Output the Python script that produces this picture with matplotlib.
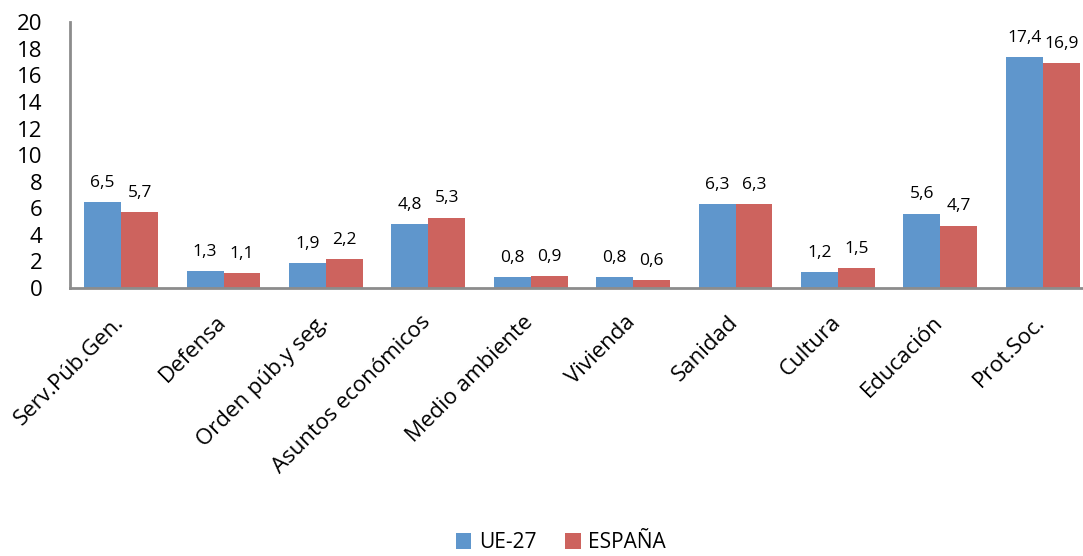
import numpy as np
import matplotlib.pyplot as plt
from matplotlib.transforms import ScaledTranslation

categorias = ['Serv.Púb.Gen.', 'Defensa', 'Orden púb.y seg.', 'Asuntos económicos',
              'Medio ambiente', 'Vivienda', 'Sanidad', 'Cultura', 'Educación', 'Prot.Soc.']
ue27 = [6.5, 1.3, 1.9, 4.8, 0.8, 0.8, 6.3, 1.2, 5.6, 17.4]
espana = [5.7, 1.1, 2.2, 5.3, 0.9, 0.6, 6.3, 1.5, 4.7, 16.9]
yticks = [0, 2, 4, 6, 8, 10, 12, 14, 16, 18, 20]

plt.rcParams['font.family'] = ['Open Sans', 'DejaVu Sans']

fig = plt.figure(figsize=(10.83, 5.56), dpi=100)
ax = fig.add_axes([0.0646, 0.482, 0.9455, 0.478])

x = np.arange(len(categorias))
w = 0.36
b1 = ax.bar(x - w/2, ue27, w, color='#5F96CC', label='UE-27')
b2 = ax.bar(x + w/2, espana, w, color='#CD635E', label='ESPAÑA')

for bars, vals in ((b1, ue27), (b2, espana)):
    for r, v in zip(bars, vals):
        ax.annotate(f'{v:.1f}'.replace('.', ','), (r.get_x() + r.get_width()/2, r.get_height()),
                    xytext=(0, 8), textcoords='offset points', ha='center', va='bottom',
                    fontsize=12.5)

ax.set_xlim(-0.5, len(categorias) - 0.5)
ax.set_ylim(0, 20)
ax.set_yticks(yticks)
ax.set_yticklabels([str(t) for t in yticks], fontsize=16)
ax.tick_params(axis='y', length=0, pad=20)
ax.tick_params(axis='x', length=0, pad=17)
ax.set_xticks(x)
ax.set_xticklabels(categorias, rotation=45, ha='right', rotation_mode='anchor', fontsize=16)
shift = ScaledTranslation(-8/100, 0, fig.dpi_scale_trans)
for lab in ax.get_xticklabels():
    lab.set_transform(lab.get_transform() + shift)

for s in ('top', 'right'):
    ax.spines[s].set_visible(False)
for s in ('left', 'bottom'):
    ax.spines[s].set_color('#8C8C8C')
    ax.spines[s].set_linewidth(2)

fig.legend(loc='center', bbox_to_anchor=(0.518, 0.024), ncol=2, frameon=False,
           fontsize=15, handlelength=0.75, handleheight=0.75, handletextpad=0.35,
           columnspacing=1.4, borderpad=0)

fig.savefig('out.png', dpi=100)
